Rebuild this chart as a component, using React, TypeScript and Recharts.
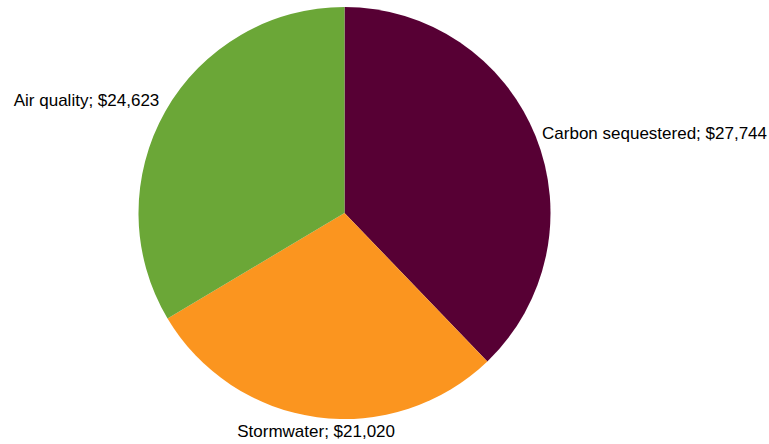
import { PieChart, Pie, Cell } from "recharts";

const categories = ["Carbon sequestered", "Stormwater", "Air quality"];
const values = [27744, 21020, 24623];
const colors = ["#570034", "#FB951F", "#6BA737"];

const data = categories.map((name, i) => ({ name, value: values[i] }));

const RAD = Math.PI / 180;

function renderLabel(props: any) {
  const { cx, cy, midAngle, outerRadius, name, value } = props;
  const r = outerRadius + 7;
  const c = Math.cos(midAngle * RAD);
  const s = Math.sin(midAngle * RAD);
  const x = cx + r * c;
  const y = cy - r * s;
  let anchor: "start" | "middle" | "end" = c >= 0 ? "start" : "end";
  if (Math.abs(c) < 0.3) anchor = "middle";
  let baseline: any = "central";
  let dy = 0;
  if (s > 0.45) {
    baseline = "alphabetic";
    dy = -2;
  } else if (s < -0.45) {
    baseline = "hanging";
    dy = 1;
  }
  return (
    <text
      x={x}
      y={y + dy}
      textAnchor={anchor}
      dominantBaseline={baseline}
      fill="#000"
      fontSize={17}
      fontFamily="'Liberation Sans', Arial, sans-serif"
    >
      {`${name}; $${value.toLocaleString("en-US")}`}
    </text>
  );
}

export default function App() {
  return (
    <div style={{ position: "absolute", left: 0, top: 0, width: 769, height: 444, background: "#fff" }}>
      <PieChart width={769} height={444} margin={{ top: 0, right: 0, bottom: 0, left: 0 }}>
        <Pie
          data={data}
          dataKey="value"
          nameKey="name"
          cx={344.5}
          cy={213}
          outerRadius={206}
          startAngle={90}
          endAngle={-270}
          stroke="none"
          label={renderLabel}
          labelLine={false}
          isAnimationActive={false}
        >
          {data.map((d, i) => (
            <Cell key={d.name} fill={colors[i]} />
          ))}
        </Pie>
      </PieChart>
    </div>
  );
}
